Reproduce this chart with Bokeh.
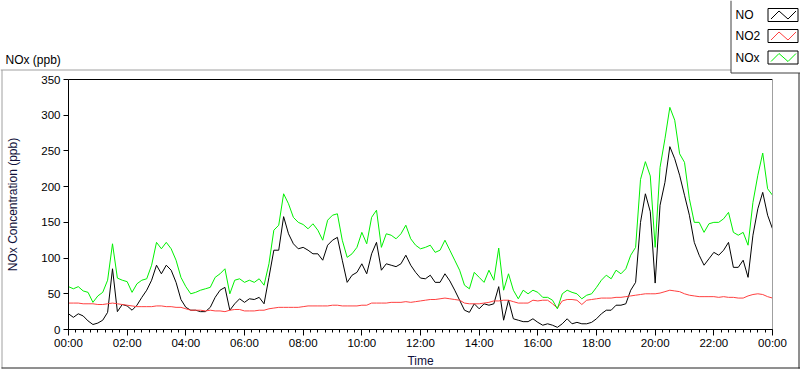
from bokeh.plotting import figure
from bokeh.models import Range1d, FixedTicker
from bokeh.core.properties import value
from bokeh.embed import file_html
from bokeh.resources import INLINE

# ---- data (10-minute samples) ----
minutes = list(range(0, 1441, 10))

no = [22, 17, 22, 19, 12, 7, 9, 13, 24, 85, 25, 35, 33, 27, 34, 45, 55, 69, 90, 78,
      90, 83, 66, 42, 31, 27, 27, 25, 25, 31, 45, 55, 59, 27, 36, 43, 38, 43, 42, 45,
      36, 73, 111, 111, 158, 134, 120, 113, 115, 111, 106, 106, 97, 118, 125, 129, 97, 66, 76, 80,
      92, 78, 106, 122, 83, 92, 90, 88, 92, 104, 90, 80, 72, 71, 76, 66, 66, 78, 68, 55,
      41, 27, 24, 36, 29, 36, 34, 36, 60, 13, 41, 15, 13, 11, 11, 15, 10, 6, 8, 6,
      3, 8, 15, 8, 10, 8, 8, 10, 15, 22, 27, 27, 34, 34, 36, 55, 66, 150, 190, 165,
      65, 174, 206, 256, 239, 216, 188, 160, 122, 104, 90, 99, 108, 104, 111, 122, 87, 87, 97, 73,
      132, 169, 192, 160, 141]

no2 = [37, 37, 37, 36, 36, 36, 35, 35, 36, 37, 36, 35, 34, 33, 32, 32, 32, 32, 33, 33,
       32, 32, 31, 31, 29, 27, 27, 27, 26, 27, 26, 26, 25, 27, 28, 28, 26, 26, 26, 27,
       27, 29, 30, 31, 31, 31, 31, 31, 32, 33, 33, 33, 33, 33, 34, 34, 33, 33, 33, 33,
       34, 34, 37, 37, 37, 37, 38, 38, 38, 39, 38, 39, 40, 41, 42, 42, 43, 44, 43, 42,
       41, 37, 36, 36, 36, 37, 38, 40, 40, 41, 41, 39, 37, 37, 37, 41, 40, 41, 41, 36,
       30, 40, 42, 42, 41, 35, 41, 42, 43, 44, 44, 44, 45, 45, 46, 47, 48, 49, 50, 50,
       50, 51, 53, 55, 54, 53, 50, 48, 47, 46, 46, 46, 46, 45, 46, 45, 45, 44, 44, 47,
       49, 50, 49, 46, 44]

nox = [60, 57, 60, 54, 52, 38, 47, 52, 69, 120, 72, 69, 67, 52, 64, 69, 71, 90, 122, 113,
       122, 113, 97, 73, 60, 50, 52, 55, 57, 59, 73, 78, 85, 50, 69, 71, 66, 69, 66, 71,
       62, 92, 139, 146, 190, 176, 157, 150, 147, 141, 148, 139, 125, 153, 160, 162, 125, 101, 106, 115,
       136, 120, 157, 167, 115, 134, 132, 127, 134, 146, 127, 118, 113, 115, 118, 108, 111, 125, 111, 97,
       83, 62, 57, 80, 73, 66, 83, 69, 114, 55, 78, 55, 43, 55, 50, 55, 52, 45, 45, 41,
       29, 50, 55, 52, 50, 43, 48, 50, 59, 69, 76, 71, 83, 78, 85, 104, 115, 210, 235, 215,
       115, 227, 267, 311, 293, 246, 234, 183, 150, 150, 136, 148, 150, 150, 155, 164, 136, 132, 136, 118,
       178, 216, 247, 197, 188]

series_names = ["NO", "NO2", "NOx"]
series_colors = ["#000000", "#ff4040", "#00f000"]

x_ticks = [0, 120, 240, 360, 480, 600, 720, 840, 960, 1080, 1200, 1320, 1440]
x_tick_labels = ["00:00", "02:00", "04:00", "06:00", "08:00", "10:00", "12:00",
                 "14:00", "16:00", "18:00", "20:00", "22:00", "00:00"]
x_minor = list(range(0, 1441, 15))
y_ticks = [0, 50, 100, 150, 200, 250, 300, 350]

FONT = "Liberation Sans"
W, H = 800, 369
# plot area in canvas pixels
PX_L, PX_R, PX_B, PX_T = 68, 772, 329, 79
X_MAX, Y_MAX = 1440, 350


def dx(px):
    return (px - PX_L) / (PX_R - PX_L) * X_MAX


def dy(py):
    return (PX_B - py) / (PX_B - PX_T) * Y_MAX


p = figure(width=W, height=H, output_backend="svg", toolbar_location=None,
           x_range=Range1d(dx(0), dx(W)), y_range=Range1d(dy(H), dy(0)),
           min_border=0)
p.background_fill_color = "white"
p.border_fill_color = "white"
p.outline_line_color = None
p.grid.visible = False

# data lines
for vals, col in zip([no, no2, nox], series_colors):
    p.line(x=minutes, y=vals, line_color=col, line_width=1)

# axes drawn at the plot-area edges
p.xaxis.fixed_location = 0
p.yaxis.fixed_location = 0
p.xaxis.bounds = (0, X_MAX)
p.yaxis.bounds = (0, Y_MAX)

p.xaxis.ticker = FixedTicker(ticks=x_ticks, minor_ticks=x_minor)
p.xaxis.major_label_overrides = dict(zip(x_ticks, x_tick_labels))
p.xaxis.axis_label = "Time"
p.xaxis.major_tick_out = 6
p.xaxis.major_tick_in = 0
p.xaxis.minor_tick_out = 3
p.xaxis.minor_tick_in = 0
p.xaxis.major_label_standoff = 1
p.xaxis.axis_label_standoff = 2

p.yaxis.ticker = FixedTicker(ticks=y_ticks, minor_ticks=[])
p.yaxis.axis_label = "NOx Concentration (ppb)"
p.yaxis.major_tick_out = 5
p.yaxis.major_tick_in = 0
p.yaxis.minor_tick_out = 0
p.yaxis.minor_tick_in = 0
p.yaxis.major_label_standoff = 3
p.yaxis.axis_label_standoff = 18

for ax in (p.xaxis, p.yaxis):
    ax.axis_line_color = "#000000"
    ax.major_tick_line_color = "#000000"
    ax.minor_tick_line_color = "#000000"
    ax.major_label_text_font = FONT
    ax.major_label_text_font_size = "11.5px"
    ax.major_label_text_color = "#000000"
    ax.axis_label_text_font = FONT
    ax.axis_label_text_font_size = "12px"
    ax.axis_label_text_font_style = "normal"
    ax.axis_label_text_color = "#10103a"

# plot-area frame: black top, grey right
p.segment(x0=[0], y0=[Y_MAX], x1=[X_MAX], y1=[Y_MAX], line_color="#000000", line_width=1)
p.segment(x0=[X_MAX], y0=[0], x1=[X_MAX], y1=[Y_MAX], line_color="#a0a0a0", line_width=1)

# outer panel frame
p.segment(x0=[dx(0), dx(1.5)], y0=[dy(69.5), dy(69.5)], x1=[dx(730.5), dx(1.5)],
          y1=[dy(69.5), dy(368)], line_color="#a0a0a0", line_width=1)
p.segment(x0=[dx(1), dx(798.5)], y0=[dy(367.5), dy(72.5)], x1=[dx(800), dx(798.5)],
          y1=[dy(367.5), dy(368)], line_color="#202020", line_width=1)

# graph label
p.text(x=[dx(5)], y=[dy(59.5)], text=["NOx (ppb)"], text_font=value(FONT),
       text_font_size="12px", text_baseline="middle", text_align="left", text_color="#000000")

# legend
p.segment(x0=[dx(730.5), dx(730.5)], y0=[dy(0), dy(72.5)], x1=[dx(730.5), dx(800)],
          y1=[dy(72.5), dy(72.5)], line_color="#404040", line_width=1)
centers = [14.5, 35.5, 57]
sw_l, sw_r = 767.5, 797.5
p.quad(left=[dx(sw_l)] * 3, right=[dx(sw_r)] * 3,
       top=[dy(c - 6.5) for c in centers], bottom=[dy(c + 6.5) for c in centers],
       fill_color="white", line_color="#000000", line_width=1)
zx = [dx(sw_l + 3), dx(sw_l + 11), dx(sw_l + 20), dx(sw_l + 28)]
p.multi_line(xs=[zx] * 3, ys=[[dy(c + 4), dy(c - 4), dy(c + 4), dy(c - 4)] for c in centers],
             line_color=series_colors, line_width=1)
p.text(x=[dx(735)] * 3, y=[dy(c) for c in centers], text=series_names, text_font=value(FONT),
       text_font_size="12px", text_baseline="middle", text_align="left", text_color="#000000")

open("out.html", "w").write(file_html(p, INLINE))
